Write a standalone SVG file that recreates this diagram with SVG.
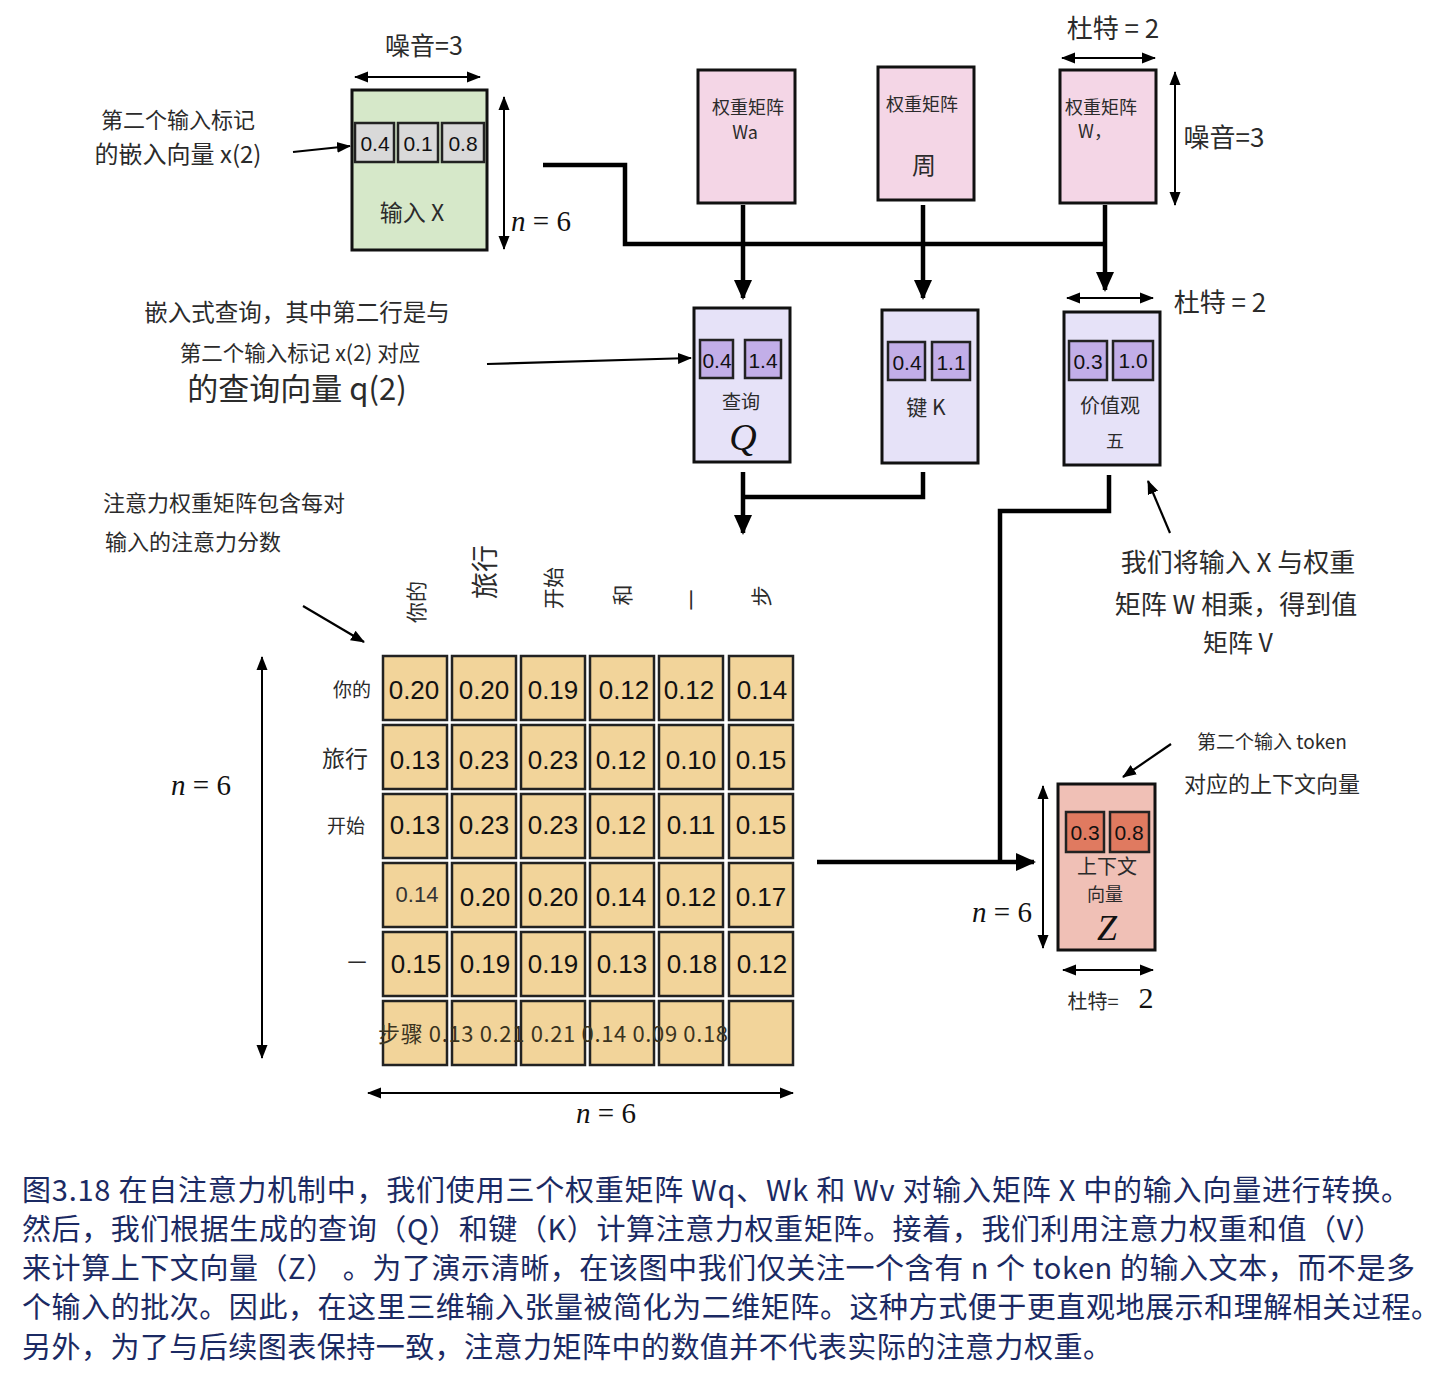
<svg xmlns="http://www.w3.org/2000/svg" width="1453" height="1375" viewBox="0 0 1453 1375">
<defs>
<marker id="ah" markerUnits="userSpaceOnUse" markerWidth="20" markerHeight="20" viewBox="0 0 20 20" refX="18" refY="10" orient="auto"><path d="M0,1 L20,10 L0,19 Z" fill="#000"/></marker>
<marker id="as" markerUnits="userSpaceOnUse" markerWidth="14" markerHeight="14" viewBox="0 0 14 14" refX="13" refY="7" orient="auto-start-reverse"><path d="M0,1.5 L14,7 L0,12.5 Z" fill="#000"/></marker>
</defs>
<style>
text{font-family:"Noto Sans CJK SC","Liberation Sans",sans-serif;fill:#2b2b2b;text-anchor:middle;dominant-baseline:central}
.num{font-family:"Liberation Sans","Noto Sans CJK SC",sans-serif;fill:#111}
.it{font-family:"Liberation Serif","DejaVu Serif",serif;fill:#111}
.i{font-style:italic}
.box{stroke:#111;stroke-width:3}
.cell{stroke:#222;stroke-width:2.5}
.conn{fill:none;stroke:#000;stroke-width:4.5}
.thin{fill:none;stroke:#000;stroke-width:2.2}
.dim{fill:none;stroke:#000;stroke-width:2}
.cap{font-family:"Noto Sans CJK SC",sans-serif;fill:#1b2a63;text-anchor:start;dominant-baseline:alphabetic;font-size:29px}
.mx{fill:#f2d49a}
</style>
<rect width="1453" height="1375" fill="#fff"/>

<g id="connectors">
<polyline class="conn" points="543,165 625,165 625,244 1105,244"/>
<line class="conn" x1="743" y1="205" x2="743" y2="298" marker-end="url(#ah)"/>
<line class="conn" x1="923" y1="205" x2="923" y2="298" marker-end="url(#ah)"/>
<line class="conn" x1="1105" y1="205" x2="1105" y2="290" marker-end="url(#ah)"/>
<line class="conn" x1="743" y1="472" x2="743" y2="533" marker-end="url(#ah)"/>
<polyline class="conn" points="923,472 923,497 743,497"/>
<polyline class="conn" points="1109,475 1109,511 1000,511 1000,862"/>
<line class="conn" x1="817" y1="862" x2="1034" y2="862" marker-end="url(#ah)"/>
<line class="thin" x1="293" y1="152" x2="350" y2="146" marker-end="url(#as)"/>
<line class="thin" x1="487" y1="364" x2="691" y2="358" marker-end="url(#as)"/>
<line class="thin" x1="1170" y1="533" x2="1148" y2="481" marker-end="url(#as)"/>
<line class="thin" x1="303" y1="606" x2="364" y2="642" marker-end="url(#as)"/>
<line class="thin" x1="1171" y1="744" x2="1123" y2="777" marker-end="url(#as)"/>
</g>

<g id="dimensions">
<line class="dim" x1="355" y1="77" x2="480" y2="77" marker-start="url(#as)" marker-end="url(#as)"/>
<text x="424" y="44" font-size="25">噪音=3</text>
<line class="dim" x1="504" y1="97" x2="504" y2="249" marker-start="url(#as)" marker-end="url(#as)"/>
<text class="it" x="541" y="221" font-size="29"><tspan class="i">n</tspan> = 6</text>
<line class="dim" x1="1062" y1="58" x2="1155" y2="58" marker-start="url(#as)" marker-end="url(#as)"/>
<text x="1113" y="26" font-size="26">杜特 = 2</text>
<line class="dim" x1="1175" y1="72" x2="1175" y2="205" marker-start="url(#as)" marker-end="url(#as)"/>
<text x="1224" y="135" font-size="26">噪音=3</text>
<line class="dim" x1="1067" y1="298" x2="1153" y2="298" marker-start="url(#as)" marker-end="url(#as)"/>
<text x="1220" y="300" font-size="26">杜特 = 2</text>
<line class="dim" x1="262" y1="657" x2="262" y2="1058" marker-start="url(#as)" marker-end="url(#as)"/>
<text class="it" x="201" y="785" font-size="29"><tspan class="i">n</tspan> = 6</text>
<line class="dim" x1="368" y1="1093" x2="793" y2="1093" marker-start="url(#as)" marker-end="url(#as)"/>
<text class="it" x="606" y="1113" font-size="29"><tspan class="i">n</tspan> = 6</text>
<line class="dim" x1="1043" y1="786" x2="1043" y2="948" marker-start="url(#as)" marker-end="url(#as)"/>
<text class="it" x="1002" y="912" font-size="29"><tspan class="i">n</tspan> = 6</text>
<line class="dim" x1="1063" y1="970" x2="1153" y2="970" marker-start="url(#as)" marker-end="url(#as)"/>
<text x="1093" y="1000" font-size="20">杜特=</text>
<text class="it" x="1146" y="997" font-size="30">2</text>
</g>

<g id="input-x">
<rect class="box" x="352" y="90" width="135" height="160" fill="#d6e8c9"/>
<rect class="cell" x="355" y="123" width="39" height="39" fill="#d9d9d9"/>
<rect class="cell" x="398" y="123" width="40" height="39" fill="#d9d9d9"/>
<rect class="cell" x="442" y="123" width="42" height="39" fill="#d9d9d9"/>
<text class="num" x="375" y="143" font-size="21">0.4</text>
<text class="num" x="418" y="143" font-size="21">0.1</text>
<text class="num" x="463" y="143" font-size="21">0.8</text>
<text x="412" y="211" font-size="23">输入 X</text>
</g>
<g id="note-x2">
<text x="178" y="118" font-size="22">第二个输入标记</text>
<text x="178" y="152" font-size="24">的嵌入向量 x(2)</text>
</g>

<g id="wq">
<rect class="box" x="698" y="70" width="97" height="133" fill="#f4d6e6"/>
<text x="748" y="106" font-size="18">权重矩阵</text>
<text x="745" y="131" font-size="18">Wa</text>
</g>
<g id="wk">
<rect class="box" x="878" y="67" width="96" height="133" fill="#f4d6e6"/>
<text x="922" y="103" font-size="18">权重矩阵</text>
<text x="924" y="163" font-size="24">周</text>
</g>
<g id="wv">
<rect class="box" x="1060" y="70" width="96" height="133" fill="#f4d6e6"/>
<text x="1101" y="106" font-size="18">权重矩阵</text>
<text x="1095" y="130" font-size="18">W，</text>
</g>

<g id="query">
<rect class="box" x="694" y="308" width="96" height="154" fill="#e6e2f8"/>
<rect class="cell" x="700" y="340" width="33" height="38" fill="#c2aee8"/>
<rect class="cell" x="745" y="340" width="36" height="38" fill="#c2aee8"/>
<text class="num" x="717" y="360" font-size="21">0.4</text>
<text class="num" x="763" y="360" font-size="21">1.4</text>
<text x="741" y="400" font-size="19">查询</text>
<text class="it i" x="743" y="437" font-size="38">Q</text>
</g>
<g id="key">
<rect class="box" x="882" y="310" width="96" height="153" fill="#e6e2f8"/>
<rect class="cell" x="888" y="342" width="37" height="38" fill="#c2aee8"/>
<rect class="cell" x="932" y="342" width="38" height="38" fill="#c2aee8"/>
<text class="num" x="907" y="362" font-size="21">0.4</text>
<text class="num" x="951" y="362" font-size="21">1.1</text>
<text x="926" y="406" font-size="21">键 K</text>
</g>
<g id="value">
<rect class="box" x="1064" y="312" width="96" height="153" fill="#e6e2f8"/>
<rect class="cell" x="1069" y="341" width="38" height="39" fill="#c2aee8"/>
<rect class="cell" x="1113" y="341" width="40" height="39" fill="#c2aee8"/>
<text class="num" x="1088" y="361" font-size="21">0.3</text>
<text class="num" x="1133" y="360" font-size="21">1.0</text>
<text x="1110" y="404" font-size="20">价值观</text>
<text x="1115" y="440" font-size="18">五</text>
</g>

<g id="note-query">
<text x="297" y="311" font-size="23.5">嵌入式查询，其中第二行是与</text>
<text x="300" y="351" font-size="21.5">第二个输入标记 x(2) 对应</text>
<text x="297" y="386" font-size="31">的查询向量 q(2)</text>
</g>
<g id="note-value">
<text x="1238" y="560" font-size="26">我们将输入 X 与权重</text>
<text x="1236" y="602" font-size="26">矩阵 W 相乘，得到值</text>
<text x="1238" y="641" font-size="25">矩阵 V</text>
</g>
<g id="note-attn">
<text x="224" y="501" font-size="22">注意力权重矩阵包含每对</text>
<text x="193" y="540" font-size="22">输入的注意力分数</text>
</g>

<g id="attention-matrix">
<g class="cells">
<rect class="cell mx" x="383" y="656" width="64" height="64"/><rect class="cell mx" x="452" y="656" width="64" height="64"/><rect class="cell mx" x="521" y="656" width="64" height="64"/><rect class="cell mx" x="590" y="656" width="64" height="64"/><rect class="cell mx" x="659" y="656" width="64" height="64"/><rect class="cell mx" x="729" y="656" width="64" height="64"/>
<rect class="cell mx" x="383" y="725" width="64" height="64"/><rect class="cell mx" x="452" y="725" width="64" height="64"/><rect class="cell mx" x="521" y="725" width="64" height="64"/><rect class="cell mx" x="590" y="725" width="64" height="64"/><rect class="cell mx" x="659" y="725" width="64" height="64"/><rect class="cell mx" x="729" y="725" width="64" height="64"/>
<rect class="cell mx" x="383" y="794" width="64" height="64"/><rect class="cell mx" x="452" y="794" width="64" height="64"/><rect class="cell mx" x="521" y="794" width="64" height="64"/><rect class="cell mx" x="590" y="794" width="64" height="64"/><rect class="cell mx" x="659" y="794" width="64" height="64"/><rect class="cell mx" x="729" y="794" width="64" height="64"/>
<rect class="cell mx" x="383" y="863" width="64" height="64"/><rect class="cell mx" x="452" y="863" width="64" height="64"/><rect class="cell mx" x="521" y="863" width="64" height="64"/><rect class="cell mx" x="590" y="863" width="64" height="64"/><rect class="cell mx" x="659" y="863" width="64" height="64"/><rect class="cell mx" x="729" y="863" width="64" height="64"/>
<rect class="cell mx" x="383" y="932" width="64" height="64"/><rect class="cell mx" x="452" y="932" width="64" height="64"/><rect class="cell mx" x="521" y="932" width="64" height="64"/><rect class="cell mx" x="590" y="932" width="64" height="64"/><rect class="cell mx" x="659" y="932" width="64" height="64"/><rect class="cell mx" x="729" y="932" width="64" height="64"/>
<rect class="cell mx" x="383" y="1001" width="64" height="64"/><rect class="cell mx" x="452" y="1001" width="64" height="64"/><rect class="cell mx" x="521" y="1001" width="64" height="64"/><rect class="cell mx" x="590" y="1001" width="64" height="64"/><rect class="cell mx" x="659" y="1001" width="64" height="64"/><rect class="cell mx" x="729" y="1001" width="64" height="64"/>
</g>
<g font-size="26">
<text class="num" x="414" y="690">0.20</text><text class="num" x="484" y="690">0.20</text><text class="num" x="553" y="690">0.19</text><text class="num" x="624" y="690">0.12</text><text class="num" x="689" y="690">0.12</text><text class="num" x="762" y="690">0.14</text>
<text class="num" x="415" y="760">0.13</text><text class="num" x="484" y="760">0.23</text><text class="num" x="553" y="760">0.23</text><text class="num" x="621" y="760">0.12</text><text class="num" x="691" y="760">0.10</text><text class="num" x="761" y="760">0.15</text>
<text class="num" x="415" y="825">0.13</text><text class="num" x="484" y="825">0.23</text><text class="num" x="553" y="825">0.23</text><text class="num" x="621" y="825">0.12</text><text class="num" x="691" y="825">0.11</text><text class="num" x="761" y="825">0.15</text>
<text class="num" x="417" y="894" font-size="22" style="fill:#333">0.14</text><text class="num" x="485" y="897">0.20</text><text class="num" x="553" y="897">0.20</text><text class="num" x="621" y="897">0.14</text><text class="num" x="691" y="897">0.12</text><text class="num" x="761" y="897">0.17</text>
<text class="num" x="416" y="964">0.15</text><text class="num" x="485" y="964">0.19</text><text class="num" x="553" y="964">0.19</text><text class="num" x="622" y="964">0.13</text><text class="num" x="692" y="964">0.18</text><text class="num" x="762" y="964">0.12</text>
</g>
<text x="553" y="1032" font-size="22" textLength="350" lengthAdjust="spacing" style="fill:#3a3320">步骤 0.13 0.21 0.21 0.14 0.09 0.18</text>
<g font-size="19">
<text x="352" y="688">你的</text>
<text x="345" y="757" font-size="23">旅行</text>
<text x="346" y="824">开始</text>
<text x="357" y="961">一</text>
</g>
<g font-size="21">
<text transform="translate(415,602) rotate(-90)">你的</text>
<text transform="translate(483,572) rotate(-90)" font-size="27">旅行</text>
<text transform="translate(552,588) rotate(-90)">开始</text>
<text transform="translate(621,595) rotate(-90)">和</text>
<text transform="translate(690,600) rotate(-90)">一</text>
<text transform="translate(760,596) rotate(-90)">步</text>
</g>
</g>

<g id="context-z">
<rect class="box" x="1058" y="784" width="97" height="166" fill="#f0c0b6"/>
<rect class="cell" x="1066" y="812" width="38" height="40" fill="#e07a60"/>
<rect class="cell" x="1110" y="812" width="39" height="40" fill="#e07a60"/>
<text class="num" x="1085" y="832" font-size="21">0.3</text>
<text class="num" x="1129" y="832" font-size="21">0.8</text>
<text x="1107" y="865" font-size="20">上下文</text>
<text x="1105" y="893" font-size="18">向量</text>
<text class="it i" x="1107" y="928" font-size="36">Z</text>
</g>
<g id="note-z">
<text x="1272" y="740" font-size="19">第二个输入 token</text>
<text x="1272" y="782" font-size="22">对应的上下文向量</text>
</g>

<g id="caption">
<text class="cap" x="22" y="1201" textLength="1388" lengthAdjust="spacing">图3.18 在自注意力机制中，我们使用三个权重矩阵 Wq、Wk 和 Wv 对输入矩阵 X 中的输入向量进行转换。</text>
<text class="cap" x="22" y="1240" textLength="1361" lengthAdjust="spacing">然后，我们根据生成的查询（Q）和键（K）计算注意力权重矩阵。接着，我们利用注意力权重和值（V）</text>
<text class="cap" x="22" y="1279" textLength="1393" lengthAdjust="spacing">来计算上下文向量（Z） 。为了演示清晰，在该图中我们仅关注一个含有 n 个 token 的输入文本，而不是多</text>
<text class="cap" x="22" y="1318" textLength="1418" lengthAdjust="spacing">个输入的批次。因此，在这里三维输入张量被简化为二维矩阵。这种方式便于更直观地展示和理解相关过程。</text>
<text class="cap" x="22" y="1358" textLength="1090" lengthAdjust="spacing">另外，为了与后续图表保持一致，注意力矩阵中的数值并不代表实际的注意力权重。</text>
</g>
</svg>
